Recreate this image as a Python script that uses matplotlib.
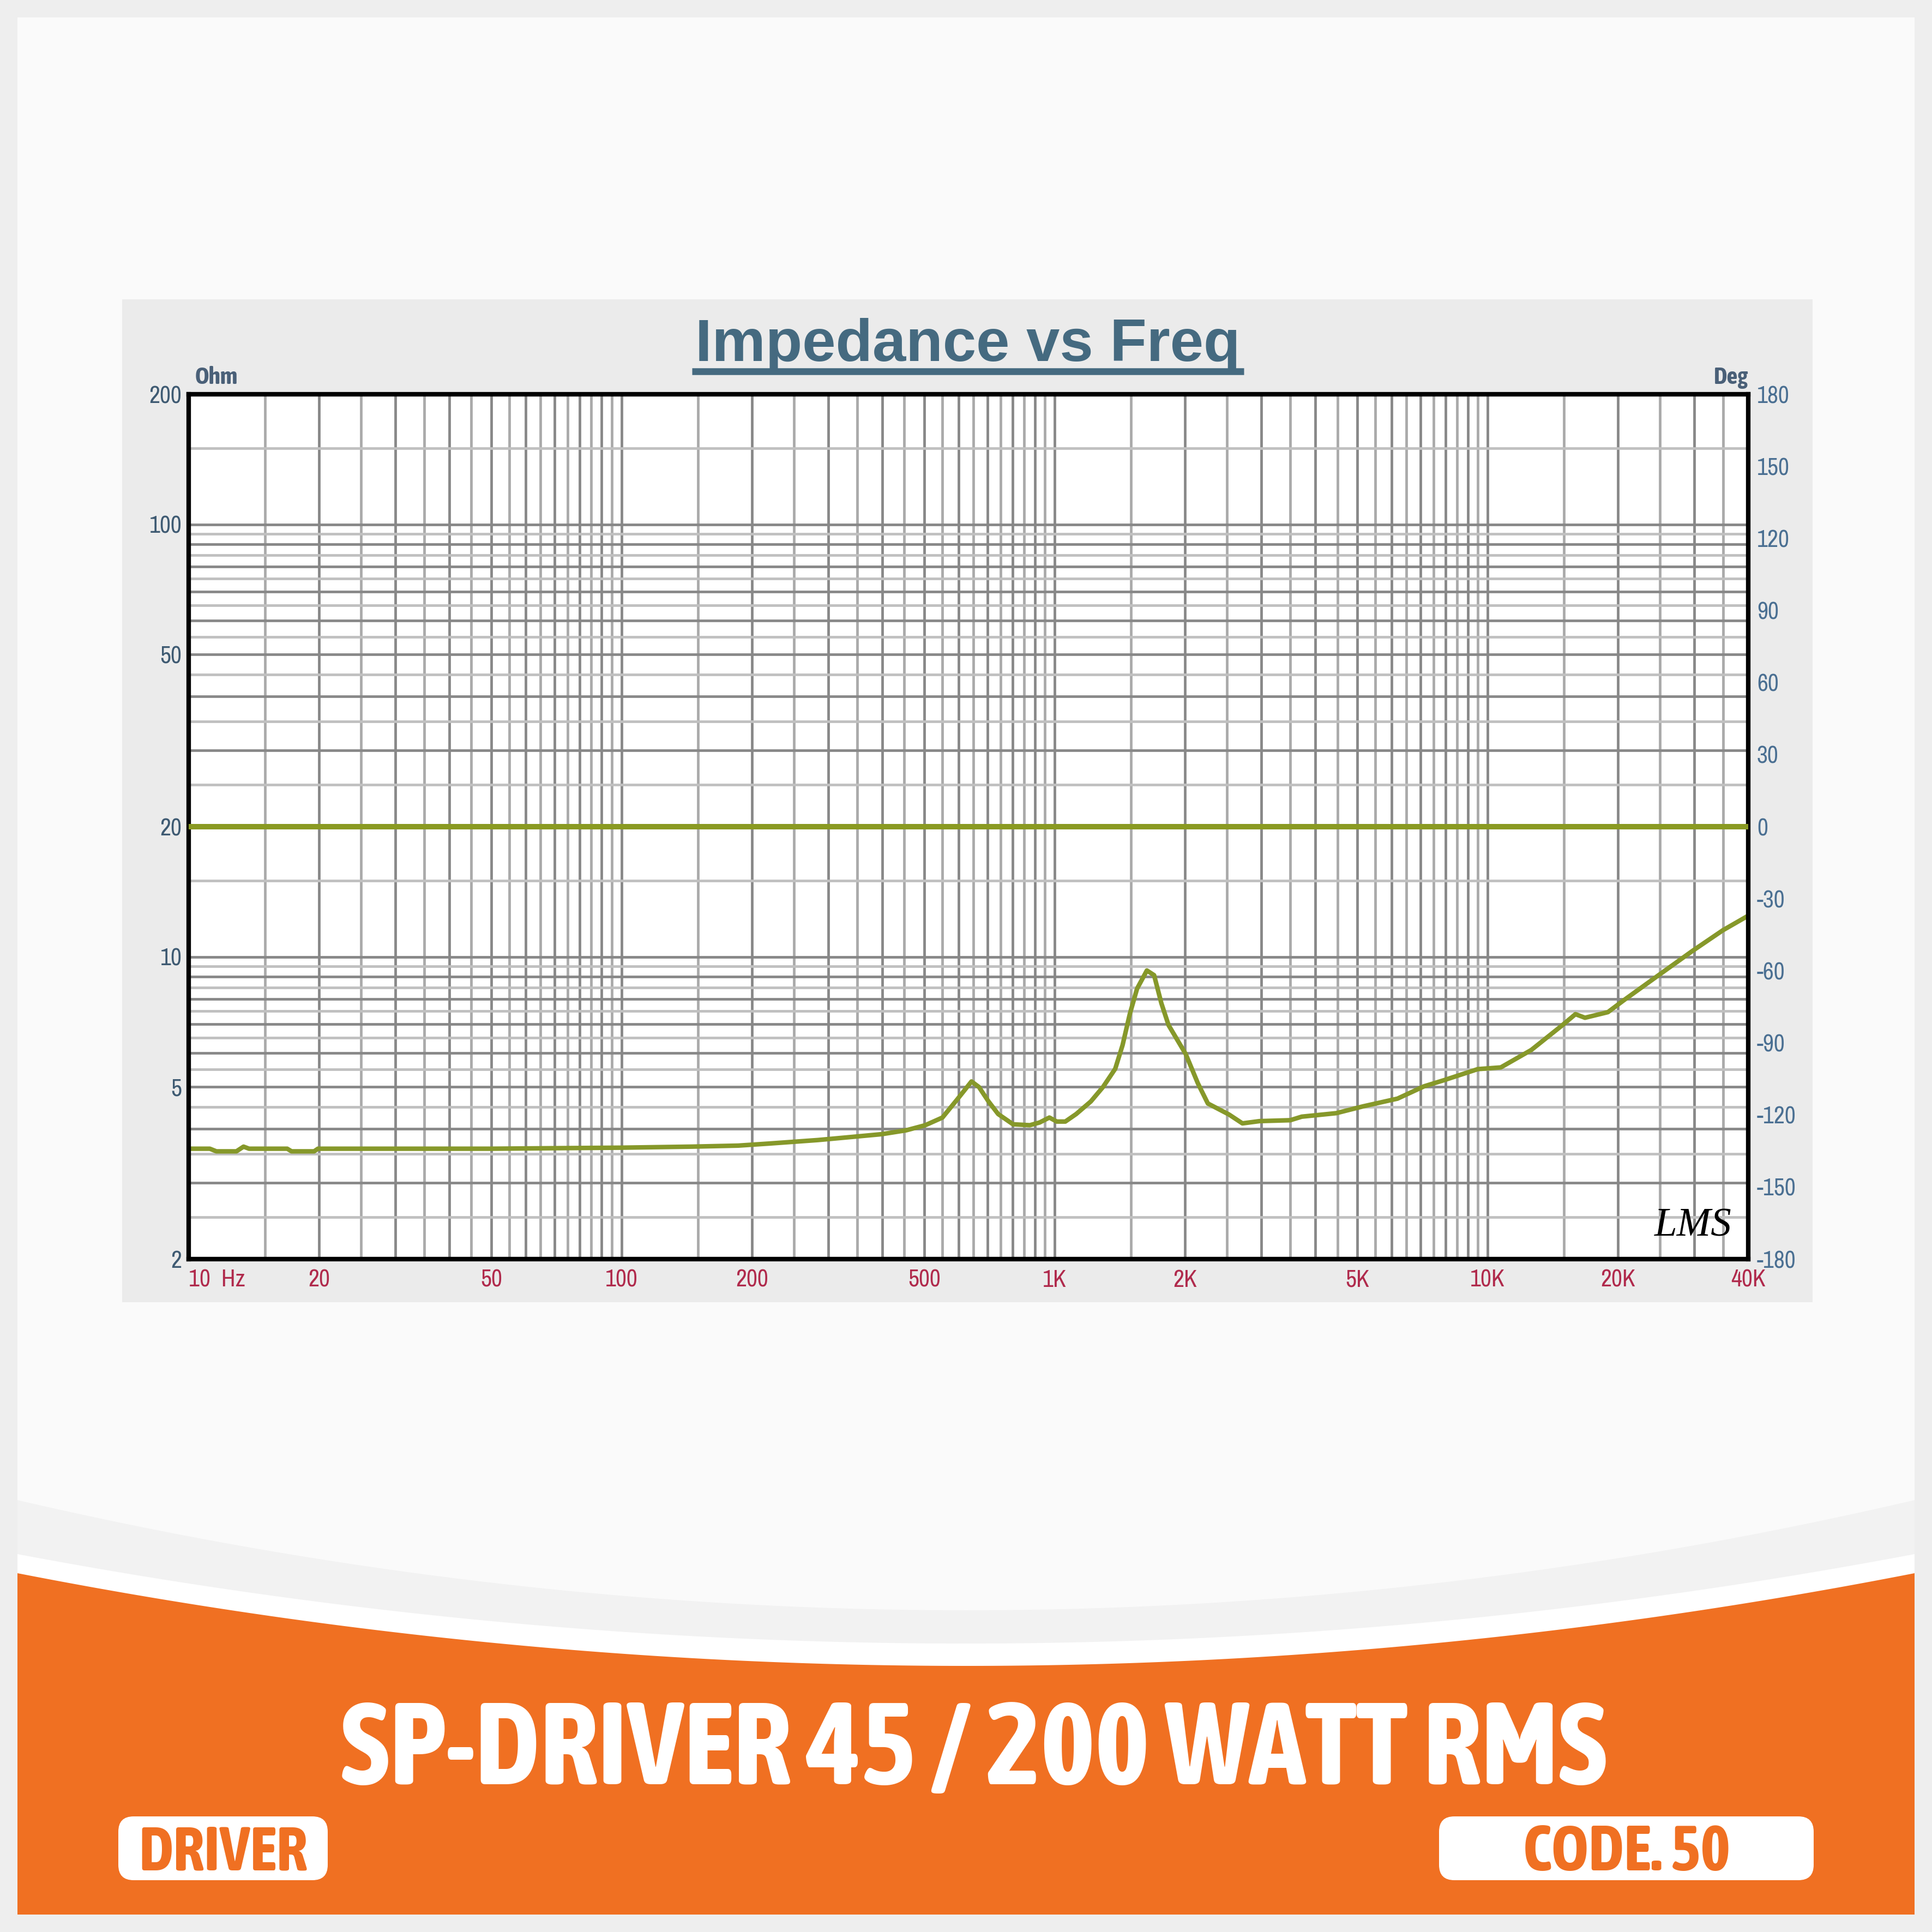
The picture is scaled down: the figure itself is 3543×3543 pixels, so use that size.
import matplotlib

matplotlib.use("Agg")

import matplotlib.pyplot as plt
import numpy as np
from matplotlib import font_manager
from matplotlib.patches import FancyBboxPatch, Polygon, Rectangle
from matplotlib.ticker import FixedLocator, NullLocator


# impedance curve
FREQ_HZ = [
    10, 11.2, 11.6, 12.9, 13.4, 13.8, 16.9, 17.3, 19.5, 19.9,
    50, 70, 100, 145, 186, 219, 284, 328, 399, 454,
    503, 551, 596, 643, 669, 704, 741, 802, 877, 924,
    973, 1012, 1059, 1122, 1213, 1294, 1381, 1436, 1492, 1551,
    1634, 1698, 1765, 1834, 2009, 2143, 2260, 2528, 2716, 2976,
    3503, 3724, 4472, 5155, 6194, 7141, 7907, 9495, 10730, 12620,
    14860, 15960, 16790, 18970, 20580, 24720, 29690, 34950, 40000,
]
IMPEDANCE_OHM = [
    3.60, 3.60, 3.55, 3.55, 3.64, 3.60, 3.60, 3.55, 3.55, 3.60,
    3.60, 3.61, 3.62, 3.64, 3.66, 3.70, 3.77, 3.82, 3.89, 3.97,
    4.08, 4.25, 4.68, 5.15, 5.00, 4.63, 4.33, 4.10, 4.08, 4.14,
    4.25, 4.16, 4.16, 4.33, 4.63, 5.00, 5.51, 6.25, 7.37, 8.44,
    9.30, 9.07, 7.81, 6.95, 5.96, 5.10, 4.58, 4.32, 4.12, 4.17,
    4.19, 4.27, 4.35, 4.51, 4.70, 5.02, 5.18, 5.50, 5.55, 6.09,
    6.94, 7.37, 7.23, 7.45, 7.92, 9.04, 10.31, 11.52, 12.45,
]
PHASE_FREQ_HZ = [10, 40000]
PHASE_DEG = [0, 0]

FREQ_TICKS = [10, 20, 50, 100, 200, 500, 1000, 2000, 5000, 10000, 20000, 40000]
FREQ_LABELS = ["10  Hz", "20", "50", "100", "200", "500", "1K", "2K", "5K", "10K", "20K", "40K"]
OHM_TICKS = [2, 5, 10, 20, 50, 100, 200]
OHM_LABELS = ["2", "5", "10", "20", "50", "100", "200"]
DEG_TICKS = [-180, -150, -120, -90, -60, -30, 0, 30, 60, 90, 120, 150, 180]
DEG_LABELS = ["-180", "-150", "-120", "-90", "-60", "-30", "0", "30", "60", "90", "120", "150", "180"]

# grid steps inside one decade (the analyzer draws 1, 1.5, 2, 2.5 ... 9.5)
GRID_STEPS = [1, 1.5, 2, 2.5, 3, 3.5, 4, 4.5, 5, 5.5, 6, 6.5, 7, 7.5, 8, 8.5, 9, 9.5]
FREQ_DECADES = [10, 100, 1000, 10000]
OHM_DECADES = [1, 10, 100]

TITLE = "Impedance vs Freq"
PRODUCT = "SP-DRIVER 45 / 200 WATT RMS"
TAG_LEFT = "DRIVER"
TAG_RIGHT = "CODE. 50"

SIZE = 3543
ORANGE = "#f07022"
OLIVE = "#86982a"
SANS = ["Liberation Sans", "DejaVu Sans"]
CONDENSED_STRETCH = ("condensed", "semi-condensed", "extra-condensed", "ultra-condensed")


def weight_of(entry) -> int:
    w = entry.weight
    if isinstance(w, str):
        return font_manager.weight_dict.get(w, 400)
    return int(w)


def is_condensed(entry) -> bool:
    name = entry.name
    return "Condensed" in name or "Narrow" in name or str(entry.stretch) in CONDENSED_STRETCH


def pick_condensed(min_weight: int):
    entries = [f for f in font_manager.fontManager.ttflist if is_condensed(f)]
    entries.sort(key=lambda f: (weight_of(f) < min_weight, abs(weight_of(f) - min_weight), f.name))
    if not entries:
        return SANS, "normal", "bold" if min_weight >= 600 else "normal"
    best = entries[0]
    stretch = best.stretch if str(best.stretch) in CONDENSED_STRETCH else "normal"
    return [best.name, "Liberation Sans", "DejaVu Sans"], stretch, weight_of(best)


HEAVY_FAMILY, HEAVY_STRETCH, HEAVY_WEIGHT = pick_condensed(700)
NARROW_FAMILY, NARROW_STRETCH, NARROW_WEIGHT = pick_condensed(400)


def heavy(**kw):
    return dict(family=HEAVY_FAMILY, fontstretch=HEAVY_STRETCH, fontweight=HEAVY_WEIGHT, **kw)


def narrow_label(lab):
    lab.set_family(NARROW_FAMILY)
    lab.set_fontstretch(NARROW_STRETCH)
    lab.set_fontweight(NARROW_WEIGHT)


def fit_width(fig, text, width_px):
    renderer = fig.canvas.get_renderer()
    current = text.get_window_extent(renderer).width
    text.set_fontsize(text.get_fontsize() * width_px / current)


def arc(xs, edge_y, center_y):
    half = (xs[-1] - xs[0]) / 2
    mid = (xs[-1] + xs[0]) / 2
    return center_y - (center_y - edge_y) * ((xs - mid) / half) ** 2


def draw_background(fig):
    bg = fig.add_axes([0, 0, 1, 1], zorder=-10)
    bg.set_xlim(0, SIZE)
    bg.set_ylim(SIZE, 0)
    bg.axis("off")

    bg.add_patch(Rectangle((32, 32), 3479, 3479, facecolor="#fafafa", edgecolor="none"))
    bg.add_patch(Rectangle((224, 549), 3100, 1839, facecolor="#ebebeb", edgecolor="none"))

    xs = np.linspace(32, 3511, 400)
    for edge_y, center_y, color in [(2751, 2953, "#f2f2f2"), (2850, 3014, "#ffffff"), (2885, 3055, ORANGE)]:
        ys = arc(xs, edge_y, center_y)
        pts = np.column_stack([np.r_[xs, 3511, 32], np.r_[ys, 3511, 3511]])
        bg.add_patch(Polygon(pts, closed=True, facecolor=color, edgecolor="none"))

    for x0, width in [(217, 384), (2639, 687)]:
        bg.add_patch(
            FancyBboxPatch(
                (x0, 3331), width, 117,
                boxstyle="round,pad=0,rounding_size=28",
                facecolor="white", edgecolor="none",
            )
        )

    product = bg.text(1786, 3272, PRODUCT, ha="center", va="baseline", color="white",
                      **heavy(fontsize=46))
    left_tag = bg.text(409, 3430, TAG_LEFT, ha="center", va="baseline", color=ORANGE,
                       **heavy(fontsize=25))
    right_tag = bg.text(2983, 3430, TAG_RIGHT, ha="center", va="baseline", color=ORANGE,
                        **heavy(fontsize=25))

    title = bg.text(1775, 662, TITLE, ha="center", va="baseline", color="#456a80",
                    fontsize=26.5, fontweight="bold", family=SANS)
    fig.canvas.draw()
    fit_width(fig, product, 2323)
    fit_width(fig, left_tag, 310)
    fit_width(fig, right_tag, 380)
    bb = title.get_window_extent(fig.canvas.get_renderer())
    bg.plot([bb.x0 - 6, bb.x1 + 6], [681, 681], color="#456a80", lw=3.0, solid_capstyle="butt")


def draw_chart(fig):
    left, right, top, bottom = 345.7, 3206, 723, 2309
    ax = fig.add_axes([left / SIZE, 1 - bottom / SIZE, (right - left) / SIZE, (bottom - top) / SIZE])
    ax.set_facecolor("white")
    ax.set_xscale("log")
    ax.set_yscale("log")
    ax.set_xlim(10, 40000)
    ax.set_ylim(2, 200)

    for decade in FREQ_DECADES:
        for step in GRID_STEPS:
            f = decade * step
            if 10 < f < 40000:
                shade = "#888888" if float(step).is_integer() else "#aaaaaa"
                ax.axvline(f, color=shade, lw=1.15, zorder=0.5)
    for decade in OHM_DECADES:
        for step in GRID_STEPS:
            z = decade * step
            if 2 < z < 200:
                shade = "#888888" if float(step).is_integer() else "#c0c0c0"
                ax.axhline(z, color=shade, lw=1.15, zorder=0.5)

    ax.plot(FREQ_HZ, IMPEDANCE_OHM, color=OLIVE, lw=2.0, zorder=3)

    ax.xaxis.set_major_locator(FixedLocator(FREQ_TICKS))
    ax.xaxis.set_minor_locator(NullLocator())
    ax.set_xticklabels(FREQ_LABELS)
    ax.yaxis.set_major_locator(FixedLocator(OHM_TICKS))
    ax.yaxis.set_minor_locator(NullLocator())
    ax.set_yticklabels(OHM_LABELS)
    ax.tick_params(axis="x", length=0, pad=4.5, labelsize=10.5, labelcolor="#b02a4c")
    ax.tick_params(axis="y", length=0, pad=3, labelsize=10.5, labelcolor="#3e5a72")
    for lab in ax.get_xticklabels() + ax.get_yticklabels():
        narrow_label(lab)
    ax.get_xticklabels()[0].set_ha("left")
    for spine in ax.spines.values():
        spine.set_linewidth(2)
        spine.set_color("black")
        spine.set_zorder(5)

    ax2 = ax.twinx()
    ax2.set_ylim(-180, 180)
    ax2.plot(PHASE_FREQ_HZ, PHASE_DEG, color="#8a9a22", lw=2.4, zorder=3)
    ax2.yaxis.set_major_locator(FixedLocator(DEG_TICKS))
    ax2.set_yticklabels(DEG_LABELS)
    ax2.tick_params(axis="y", length=0, pad=3.8, labelsize=10.5, labelcolor="#4a6f92")
    for lab in ax2.get_yticklabels():
        narrow_label(lab)
    for spine in ax2.spines.values():
        spine.set_visible(False)

    for x, ha, label in [(0.004, "left", "Ohm"), (1.0, "right", "Deg")]:
        ax.text(x, 1.006, label, transform=ax.transAxes, ha=ha, va="bottom", color="#4a6078",
                **heavy(fontsize=10.5))
    ax2.text(0.9647, 0.038, "LMS", transform=ax.transAxes, ha="center", va="center",
             fontsize=18, fontstyle="italic", color="black", family=["Liberation Serif", "DejaVu Serif"])


def main() -> None:
    fig = plt.figure(figsize=(SIZE / 300, SIZE / 300), dpi=300, facecolor="#eeeeee")
    draw_background(fig)
    draw_chart(fig)
    fig.savefig("out.png", dpi=300, facecolor=fig.get_facecolor())
    plt.close(fig)


if __name__ == "__main__":
    main()
